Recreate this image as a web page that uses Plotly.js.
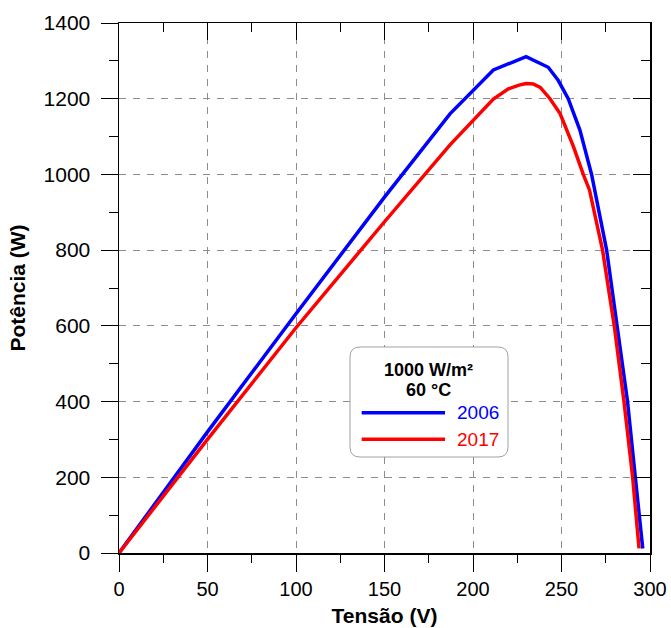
<!DOCTYPE html>
<html>
<head>
<meta charset="utf-8">
<script src="https://cdn.plot.ly/plotly-3.0.1.min.js"></script>
<style>html,body{margin:0;padding:0;background:#fff;}#chart{width:671px;height:628px;}</style>
</head>
<body>
<div id="chart"></div>
<script>
// ---- data ----
var voltage2006 = [0, 50, 100, 150, 187, 211.5, 230, 242.5, 248.2, 253.8, 260.4, 267, 275.5, 281.5, 287.3, 291.7, 295.9];
var power2006   = [0, 320, 632, 940, 1160, 1276, 1311, 1283, 1248, 1200, 1117, 1000, 800, 600, 400, 200, 12];
var voltage2017 = [0, 50, 100, 150, 187, 200, 211.5, 220, 226, 230, 234, 238, 243.5, 249.2, 253, 256.7, 262.3, 265.8, 273.2, 279.8, 285.3, 290.2, 293.8];
var power2017   = [0, 300, 595, 875, 1078, 1143, 1199, 1226, 1236, 1240, 1239, 1230, 1200, 1161, 1117, 1074, 1000, 959, 800, 600, 400, 200, 12];
var seriesNames = ['2006', '2017'];
var legendTitleLines = ['1000 W/m²', '60 °C'];
var xTitle = 'Tensão (V)';
var yTitle = 'Potência (W)';

var FONT = 'Liberation Sans, Arial, sans-serif';

var traces = [
  {x: voltage2006, y: power2006, name: seriesNames[0], mode: 'lines',
   line: {color: '#0000ff', width: 3.5}, showlegend: false},
  {x: voltage2017, y: power2017, name: seriesNames[1], mode: 'lines',
   line: {color: '#ff0000', width: 3.5}, showlegend: false},
  // helper trace so the mirrored (top/right) axes get drawn
  {x: [0], y: [0], xaxis: 'x2', yaxis: 'y2', mode: 'none', showlegend: false, hoverinfo: 'skip'}
];

// legend box geometry (paper coords)
var bx0 = 0.435, bx1 = 0.7326, by0 = 0.1811, by1 = 0.3887, rx = 0.019, ry = 0.019;
var boxPath = 'M' + (bx0 + rx) + ',' + by1 + ' L' + (bx1 - rx) + ',' + by1 +
  ' Q' + bx1 + ',' + by1 + ' ' + bx1 + ',' + (by1 - ry) +
  ' L' + bx1 + ',' + (by0 + ry) + ' Q' + bx1 + ',' + by0 + ' ' + (bx1 - rx) + ',' + by0 +
  ' L' + (bx0 + rx) + ',' + by0 + ' Q' + bx0 + ',' + by0 + ' ' + bx0 + ',' + (by0 + ry) +
  ' L' + bx0 + ',' + (by1 - ry) + ' Q' + bx0 + ',' + by1 + ' ' + (bx0 + rx) + ',' + by1 + ' Z';

var axisCommon = {
  showline: true, linecolor: '#000', linewidth: 1.5,
  ticks: 'outside', ticklen: 17, tickwidth: 1, tickcolor: '#000',
  showgrid: true, gridcolor: '#8c8c8c', gridwidth: 1, griddash: '7px,7px',
  zeroline: false
};

var layout = {
  width: 671, height: 628,
  margin: {l: 119, r: 21, t: 23, b: 75},
  paper_bgcolor: '#fff', plot_bgcolor: '#fff',
  showlegend: false,
  xaxis: Object.assign({}, axisCommon, {
    range: [0, 300], dtick: 50, tick0: 0,
    tickfont: {family: FONT, size: 20, color: '#000'},
    minor: {dtick: 25, ticks: 'outside', ticklen: 8, tickcolor: '#000', tickwidth: 1, showgrid: false},
    title: {text: '<b>' + xTitle + '</b>', font: {family: FONT, size: 21, color: '#000'}, standoff: 10}
  }),
  yaxis: Object.assign({}, axisCommon, {
    range: [0, 1400], dtick: 200, tick0: 0,
    tickfont: {family: FONT, size: 21, color: '#000'},
    ticklabelstandoff: 6,
    minor: {dtick: 100, ticks: 'outside', ticklen: 9, tickcolor: '#000', tickwidth: 1, showgrid: false},
    title: {text: '<b>' + yTitle + '</b>', font: {family: FONT, size: 21, color: '#000'}, standoff: 12}
  }),
  xaxis2: {
    overlaying: 'x', side: 'top', anchor: 'y2', range: [0, 300], dtick: 50, tick0: 0,
    showline: true, linecolor: '#000', linewidth: 1.5,
    ticks: 'inside', ticklen: 17, tickcolor: '#000', tickwidth: 1,
    minor: {dtick: 25, ticks: 'inside', ticklen: 9, tickcolor: '#000', tickwidth: 1, showgrid: false},
    showgrid: false, zeroline: false, showticklabels: false
  },
  yaxis2: {
    overlaying: 'y', side: 'right', anchor: 'x2', range: [0, 1400], dtick: 200, tick0: 0,
    showline: true, linecolor: '#000', linewidth: 1.5,
    ticks: 'inside', ticklen: 17, tickcolor: '#000', tickwidth: 1,
    minor: {dtick: 100, ticks: 'inside', ticklen: 9, tickcolor: '#000', tickwidth: 1, showgrid: false},
    showgrid: false, zeroline: false, showticklabels: false
  },
  shapes: [
    {type: 'path', xref: 'paper', yref: 'paper', path: boxPath,
     fillcolor: '#fff', line: {color: '#a0a0a0', width: 1}, layer: 'above'},
    {type: 'line', xref: 'paper', yref: 'paper', x0: 0.457, x1: 0.614, y0: 0.2647, y1: 0.2647,
     line: {color: '#0000ff', width: 3.5}, layer: 'above'},
    {type: 'line', xref: 'paper', yref: 'paper', x0: 0.457, x1: 0.614, y0: 0.2145, y1: 0.2145,
     line: {color: '#ff0000', width: 3.5}, layer: 'above'}
  ],
  annotations: [
    {xref: 'paper', yref: 'paper', x: 0.5838, y: 0.345, text: '<b>' + legendTitleLines[0] + '</b>',
     showarrow: false, xanchor: 'center', yanchor: 'middle', font: {family: FONT, size: 18, color: '#000'}},
    {xref: 'paper', yref: 'paper', x: 0.5838, y: 0.3075, text: '<b>' + legendTitleLines[1] + '</b>',
     showarrow: false, xanchor: 'center', yanchor: 'middle', font: {family: FONT, size: 18, color: '#000'}},
    {xref: 'paper', yref: 'paper', x: 0.6328, y: 0.2647, text: seriesNames[0],
     showarrow: false, xanchor: 'left', yanchor: 'middle', font: {family: FONT, size: 19, color: '#0000ff'}},
    {xref: 'paper', yref: 'paper', x: 0.6328, y: 0.2145, text: seriesNames[1],
     showarrow: false, xanchor: 'left', yanchor: 'middle', font: {family: FONT, size: 19, color: '#ff0000'}}
  ]
};

Plotly.newPlot('chart', traces, layout, {displayModeBar: false, staticPlot: true});
</script>
</body>
</html>
